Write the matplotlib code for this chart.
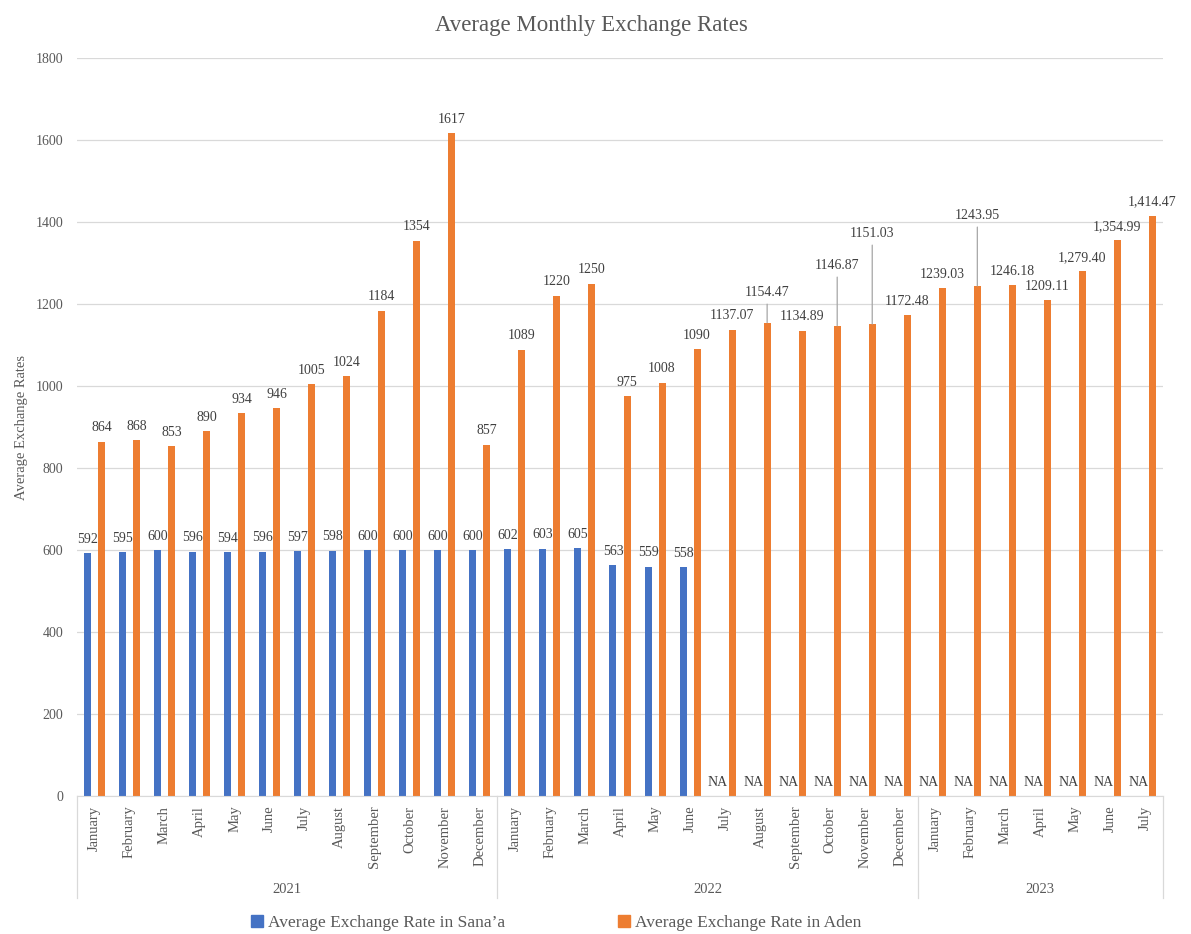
import matplotlib
matplotlib.use('Agg')
import matplotlib.pyplot as plt
from matplotlib.patches import Patch

plt.rcParams['font.family'] = ['Liberation Serif', 'DejaVu Serif']

# Data
months = ['January', 'February', 'March', 'April', 'May', 'June', 'July',
          'August', 'September', 'October', 'November', 'December',
          'January', 'February', 'March', 'April', 'May', 'June', 'July',
          'August', 'September', 'October', 'November', 'December',
          'January', 'February', 'March', 'April', 'May', 'June', 'July']
years = ['2021', '2022', '2023']
months_per_year = [12, 12, 7]

sanaa = [592, 595, 600, 596, 594, 596, 597, 598, 600, 600, 600, 600,
         602, 603, 605, 563, 559, 558,
         None, None, None, None, None, None,
         None, None, None, None, None, None, None]
aden = [864, 868, 853, 890, 934, 946, 1005, 1024, 1184, 1354, 1617, 857,
        1089, 1220, 1250, 975, 1008, 1090, 1137.07, 1154.47, 1134.89,
        1146.87, 1151.03, 1172.48,
        1239.03, 1243.95, 1246.18, 1209.11, 1279.40, 1354.99, 1414.47]
aden_labels = ['864', '868', '853', '890', '934', '946', '1005', '1024',
               '1184', '1354', '1617', '857',
               '1089', '1220', '1250', '975', '1008', '1090', '1137.07',
               '1154.47', '1134.89', '1146.87', '1151.03', '1172.48',
               '1239.03', '1243.95', '1246.18', '1209.11', '1,279.40',
               '1,354.99', '1,414.47']

# labels moved up with a leader line: index -> label height
leader_labels = {19: 1229, 21: 1295, 22: 1373, 25: 1417}

BLUE = '#4472C4'
ORANGE = '#ED7D31'
GRID = '#d9d9d9'
TXT = '#404040'

fig = plt.figure(figsize=(11.91, 9.34), dpi=100)
ax = fig.add_axes([77 / 1191, 1 - 796 / 934, (1163 - 77) / 1191, (796 - 58) / 934])

x = list(range(len(months)))
width = 0.2
sx = [i - 0.2 for i in x]
ox = [i + 0.2 for i in x]

ax.bar(sx, [v if v is not None else 0 for v in sanaa], width, color=BLUE)
ax.bar(ox, aden, width, color=ORANGE)

# Sana'a labels
for xi, v in zip(sx, sanaa):
    lab = 'NA' if v is None else str(v)
    ax.annotate(lab, (xi, v if v is not None else 0), xytext=(0, 10),
                textcoords='offset points', ha='center', va='center',
                fontsize=10, color=TXT)

# Aden labels
for i, (xi, v, lab) in enumerate(zip(ox, aden, aden_labels)):
    if i in leader_labels:
        ax.annotate(lab, (xi, v), xytext=(xi, leader_labels[i]),
                    textcoords='data', ha='center', va='center',
                    fontsize=10, color=TXT,
                    arrowprops=dict(arrowstyle='-', color='#a6a6a6', lw=0.9,
                                    relpos=(0.5, 0), shrinkA=2, shrinkB=0))
    else:
        ax.annotate(lab, (xi, v), xytext=(0, 10), textcoords='offset points',
                    ha='center', va='center', fontsize=10, color=TXT)

ax.set_xlim(-0.5, len(months) - 0.5)
ax.set_ylim(0, 1800)
ax.set_yticks(range(0, 1801, 200))
ax.tick_params(axis='y', length=0, pad=10, labelsize=10, labelcolor='#595959')
ax.set_xticks(x)
ax.set_xticklabels(months, rotation=90, va='top')
ax.tick_params(axis='x', length=0, pad=7, labelsize=10.5, labelcolor='#595959')
ax.grid(True, axis='y', color=GRID, lw=0.9)
ax.set_axisbelow(True)
for s in ['top', 'right', 'left']:
    ax.spines[s].set_visible(False)
ax.spines['bottom'].set_color(GRID)

# year groups under the month labels
trans = ax.get_xaxis_transform()
bounds = [-0.5]
for n in months_per_year:
    bounds.append(bounds[-1] + n)
for b in bounds:
    ax.plot([b, b], [0, -0.138], transform=trans, color=GRID, lw=0.9,
            clip_on=False)
for yr, a, b in zip(years, bounds[:-1], bounds[1:]):
    ax.text((a + b) / 2, -0.127, yr, transform=trans, ha='center',
            va='center', fontsize=10.5, color='#595959')

ax.set_ylabel('Average Exchange Rates', fontsize=10.5, color='#595959')
ax.yaxis.set_label_coords(-0.045, 0.5)

fig.text(0.497, 1 - 25 / 934, 'Average Monthly Exchange Rates',
         ha='center', va='center', fontsize=16.5, color='#595959')

handles = [Patch(color=BLUE, label='Average Exchange Rate in Sana\u2019a'),
           Patch(color=ORANGE, label='Average Exchange Rate in Aden')]
fig.legend(handles=handles, loc='center', bbox_to_anchor=(0.467, 1 - 923 / 934),
           ncol=2, frameon=False, fontsize=12.5, handlelength=0.7,
           handleheight=0.7, handletextpad=0.3, columnspacing=6.5,
           labelcolor='#595959')

fig.savefig('out.png', dpi=100)
